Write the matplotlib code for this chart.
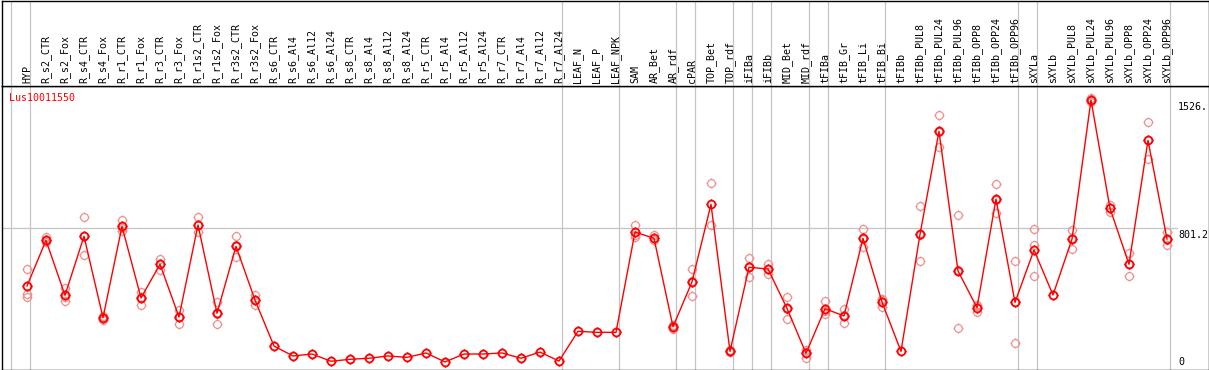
import matplotlib
matplotlib.use("Agg")
import matplotlib.pyplot as plt
from matplotlib.path import Path
from matplotlib.transforms import blended_transform_factory

# ---------------- data ----------------
gene = "Lus10011550"
categories = [
    "HYP", "R_s2_CTR", "R_s2_Fox", "R_s4_CTR", "R_s4_Fox", "R_r1_CTR", "R_r1_Fox",
    "R_r3_CTR", "R_r3_Fox", "R_r1s2_CTR", "R_r1s2_Fox", "R_r3s2_CTR", "R_r3s2_Fox",
    "R_s6_CTR", "R_s6_Al4", "R_s6_Al12", "R_s6_Al24", "R_s8_CTR", "R_s8_Al4",
    "R_s8_Al12", "R_s8_Al24", "R_r5_CTR", "R_r5_Al4", "R_r5_Al12", "R_r5_Al24",
    "R_r7_CTR", "R_r7_Al4", "R_r7_Al12", "R_r7_Al24", "LEAF_N", "LEAF_P", "LEAF_NPK",
    "SAM", "AR_Bet", "AR_rdf", "cPAR", "TOP_Bet", "TOP_rdf", "iFIBa", "iFIBb",
    "MID_Bet", "MID_rdf", "tFIBa", "tFIB_Gr", "tFIB_Li", "tFIB_Bi", "tFIBb",
    "tFIBb_PUL8", "tFIBb_PUL24", "tFIBb_PUL96", "tFIBb_OPP8", "tFIBb_OPP24",
    "tFIBb_OPP96", "sXYLa", "sXYLb", "sXYLb_PUL8", "sXYLb_PUL24", "sXYLb_PUL96",
    "sXYLb_OPP8", "sXYLb_OPP24", "sXYLb_OPP96",
]
means = [
    471, 730, 418, 753, 291, 809, 403, 594, 295, 817, 316, 696, 391,
    130, 74, 85, 44, 55, 61, 74, 66, 91, 40, 85, 85, 91, 61, 96, 45,
    214, 208, 208,
    777, 741, 240, 494, 934, 100, 577, 567, 344, 89,
    342, 301, 741, 380, 100, 764, 1348, 556, 348, 964, 378,
    675, 420, 737, 1526, 911, 594, 1297, 737,
]
replicates = [
    [567, 424, 407], [751, 730, 719], [461, 410, 384], [862, 753, 645],
    [301, 295, 278], [843, 801, 783], [437, 406, 365], [624, 596, 562],
    [335, 296, 254], [862, 814, 775], [382, 312, 254], [753, 701, 634],
    [420, 390, 363],
    [], [], [], [], [], [], [], [], [], [], [], [], [], [], [], [],
    [], [], [],
    [819, 761, 751], [758, 733, 732], [250, 245, 225], [569, 497, 416],
    [1053, 815], [108, 96, 96], [628, 583, 520], [597, 567, 537],
    [407, 343, 282], [108, 95, 64],
    [386, 330, 310], [340, 304, 259], [792, 739, 692], [395, 391, 353], [],
    [923, 758, 611], [1439, 1347, 1258], [874, 561, 233], [363, 356, 325],
    [1050, 960, 883], [611, 378, 146],
    [792, 703, 526], [], [787, 744, 681], [1539, 1523, 1516], [930, 912, 892],
    [660, 596, 526], [1401, 1300, 1191], [779, 730, 703],
]
group_ends = [-1, 0, 28, 31, 34, 35, 37, 38, 39, 41, 42, 45, 52, 53, 60]
ref_value = 801.2
max_value = 1526
value_labels = ["1526.", "801.2", "0"]
value_label_pos = [1526, 801.2, 0]

# ---------------- layout ----------------
W, H = 1209, 370
fig = plt.figure(figsize=(W / 100, H / 100), dpi=100)
fig.patch.set_facecolor("white")

ax = fig.add_axes([1.5 / W, 0.5 / H, (1208.5 - 1.5) / W, (284.5 - 0.5) / H])
axl = fig.add_axes([1.5 / W, 284.5 / H, (1208.5 - 1.5) / W, 85 / H], sharex=ax)

xmin = (1.5 - 27) / 19
xmax = (1208.5 - 27) / 19
ax.set_xlim(xmin, xmax)
ax.set_ylim(-2.8, 1608)
axl.set_ylim(0, 1)

for a in (ax, axl):
    a.set_xticks([])
    a.set_yticks([])
    for s in a.spines.values():
        s.set_color("black")
        s.set_linewidth(1.0)
    a.tick_params(left=False, bottom=False, labelbottom=False, labelleft=False)

mono = "DejaVu Sans Mono"
fs = 7.2
grid_c = "#c4c4c4"

# group separators
for g in group_ends:
    for a in (ax, axl):
        a.axvline(g + 0.18, color=grid_c, lw=0.9, zorder=0)

# reference gridline
frac = (1177 - 1.5) / (1208.5 - 1.5)
ax.axhline(ref_value, xmin=0, xmax=frac, color=grid_c, lw=0.9, zorder=0)

# marker: circle with four small ticks
circle = Path.unit_circle()
tk = 1.28
ticks = Path([(0, 1), (0, tk), (0, -1), (0, -tk), (1, 0), (tk, 0), (-1, 0), (-tk, 0)],
             [Path.MOVETO, Path.LINETO] * 4)
mk = Path.make_compound_path(circle, ticks)

xs = list(range(len(categories)))

# replicates
rx, ry = [], []
for i, reps in enumerate(replicates):
    for v in reps:
        rx.append(i)
        ry.append(v)
ax.plot(rx, ry, linestyle="none", marker=mk, markersize=7.2, markerfacecolor="none",
        markeredgecolor="#ee9090", markeredgewidth=0.9, zorder=2)

# means line + markers
ax.plot(xs, means, color="#ff0000", lw=1.0, zorder=3)
ax.plot(xs, means, linestyle="none", marker=mk, markersize=7.2, markerfacecolor="none",
        markeredgecolor="#ff0000", markeredgewidth=1.3, zorder=4)

# category labels
for i, name in enumerate(categories):
    axl.text(i, 0.024, name, rotation=90, ha="center", va="bottom",
             family=mono, fontsize=fs, color="black")

# gene name
ax.text((9.3 - 1.5) / 1207, (369 - 100.7) / 284, gene, transform=ax.transAxes,
        ha="left", va="baseline", family=mono, fontsize=fs, color="#ff0000")

# value labels on the right
tr = blended_transform_factory(ax.transAxes, ax.transData)
xl = (1178 - 1.5) / 1207
for lab, v in zip(value_labels, value_label_pos):
    if v == 0:
        ax.annotate(lab, xy=(xl, v), xycoords=tr, xytext=(0, 3.0), textcoords="offset points",
                    ha="left", va="baseline", family=mono, fontsize=fs)
    else:
        ax.annotate(lab, xy=(xl, v), xycoords=tr, xytext=(0, -1.5), textcoords="offset points",
                    ha="left", va="top", family=mono, fontsize=fs)

fig.savefig("out.png", dpi=100, facecolor="white")
